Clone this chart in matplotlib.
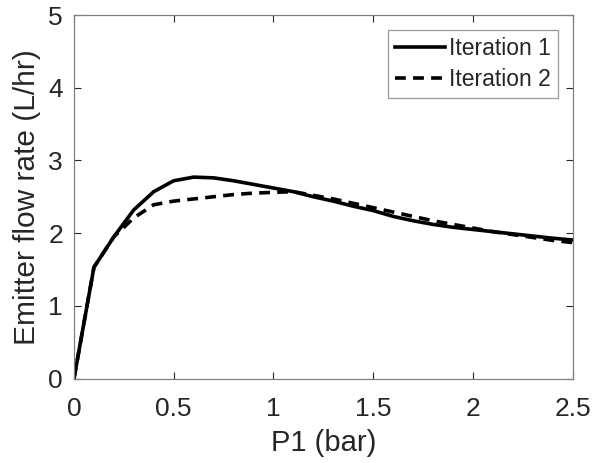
import matplotlib
matplotlib.use("Agg")
import matplotlib.pyplot as plt

plt.rcParams["font.family"] = ["Liberation Sans", "DejaVu Sans"]

# pressure (bar)
p1 = [0.0, 0.1, 0.2, 0.3, 0.4, 0.5, 0.6, 0.7, 0.8, 0.9, 1.0, 1.1, 1.2,
      1.3, 1.4, 1.5, 1.6, 1.7, 1.8, 1.9, 2.0, 2.1, 2.2, 2.3, 2.4, 2.5]
# emitter flow rate (L/hr)
iter1 = [0.0, 1.53, 1.95, 2.32, 2.57, 2.72, 2.77, 2.76, 2.72, 2.67, 2.62,
         2.57, 2.50, 2.44, 2.37, 2.31, 2.23, 2.17, 2.12, 2.08, 2.05, 2.02,
         1.99, 1.96, 1.93, 1.905]
iter2 = [0.0, 1.53, 1.95, 2.21, 2.39, 2.44, 2.47, 2.50, 2.53, 2.55, 2.56,
         2.57, 2.52, 2.47, 2.41, 2.35, 2.29, 2.23, 2.17, 2.12, 2.07, 2.02,
         1.98, 1.94, 1.90, 1.87]

fg = "#262626"

fig = plt.figure(figsize=(6.03, 4.63), dpi=100)
ax = fig.add_axes([0.1227, 0.1825, 0.8268, 0.7851])

ax.plot(p1, iter1, color="black", lw=2.6, label="Iteration 1")
ax.plot(p1, iter2, color="black", lw=2.6, ls=(0, (3.0, 2.0)), label="Iteration 2")

ax.set_xlim(0, 2.5)
ax.set_ylim(0, 5)
ax.set_xticks([0, 0.5, 1, 1.5, 2, 2.5])
ax.set_xticklabels(["0", "0.5", "1", "1.5", "2", "2.5"])
ax.set_yticks([0, 1, 2, 3, 4, 5])

ax.tick_params(direction="in", length=5, width=0.8, color=fg,
               labelsize=19, labelcolor=fg, top=True, right=True)
ax.tick_params(axis="x", pad=13)
ax.tick_params(axis="y", pad=8)
for s in ax.spines.values():
    s.set_color("#808080")
    s.set_linewidth(0.9)

ax.set_xlabel("P1 (bar)", fontsize=21, color=fg, labelpad=6)
ax.set_ylabel("Emitter flow rate (L/hr)", fontsize=21.5, color=fg, labelpad=5)

leg = ax.legend(loc="upper right", fontsize=16.5, frameon=True, fancybox=False,
                edgecolor="#808080", handlelength=2.2, handletextpad=0.15,
                borderpad=0.3, labelspacing=0.35, borderaxespad=0.65)
leg.get_frame().set_linewidth(0.9)
for t in leg.get_texts():
    t.set_color(fg)

fig.savefig("out.png", dpi=100)
